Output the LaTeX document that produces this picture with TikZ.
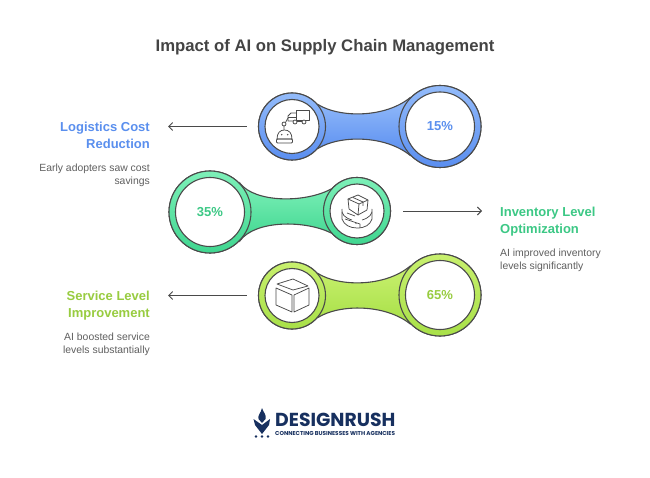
\documentclass[tikz,border=0pt]{standalone}
\usepackage{fontspec}
\setmainfont{Liberation Sans}
\newfontfamily\logofont{Poppins}
\usetikzlibrary{arrows.meta}
\definecolor{inkgray}{HTML}{4A4A4A}
\definecolor{titlegray}{HTML}{444444}
\definecolor{bodygray}{HTML}{5F5F5F}
\definecolor{bluetop}{HTML}{93BBFA}
\definecolor{bluelow}{HTML}{5A8EF0}
\definecolor{bluetext}{HTML}{5A8FEE}
\definecolor{greentop}{HTML}{7DF0B8}
\definecolor{greenlow}{HTML}{40D690}
\definecolor{greentext}{HTML}{3CC885}
\definecolor{limetop}{HTML}{C8F06E}
\definecolor{limelow}{HTML}{A8E048}
\definecolor{limetext}{HTML}{98CC40}
\definecolor{logonavy}{HTML}{17305F}
\tikzset{
    outerbig/.style={circle, draw=inkgray, line width=1.1pt, minimum size=82pt, inner sep=0pt},
    outersmall/.style={circle, draw=inkgray, line width=1.1pt, minimum size=67pt, inner sep=0pt},
    innerbig/.style={circle, draw=inkgray, fill=white, line width=1.1pt, minimum size=69pt, inner sep=0pt, font=\bfseries\fontsize{13}{16}\selectfont},
    innersmall/.style={circle, draw=inkgray, fill=white, line width=1.1pt, minimum size=54pt, inner sep=0pt},
    link/.style={draw=inkgray, line width=1.1pt},
    pointer/.style={draw=inkgray, line width=0.9pt, -{Straight Barb[length=4pt,width=8pt]}},
    heading/.style={font=\bfseries\fontsize{13}{17}\selectfont, inner sep=0pt},
    bodytext/.style={font=\fontsize{10.4}{13}\selectfont, text=bodygray, inner sep=0pt},
    icon/.style={draw=inkgray, line width=0.75pt, line join=round}
}
\begin{document}
\begin{tikzpicture}[x=1pt, y=-1pt]
    \useasboundingbox (0,0) rectangle (650,478);
    \fill[white] (0,0) rectangle (650,478);

    % Title
    \node[font=\bfseries\fontsize{16.7}{20}\selectfont, text=titlegray, inner sep=0pt] (title) at (325,47.5) {Impact of AI on Supply Chain Management};

    % Top row
    \node[outersmall, top color=bluetop, bottom color=bluelow] (costsmall) at (292,126.5) {};
    \node[outerbig, top color=bluetop, bottom color=bluelow] (costbig) at (440,126.5) {};
    \draw[link, top color=bluetop, bottom color=bluelow] (costsmall.40) .. controls (340,118) and (385,118) .. (costbig.136) -- (costbig.-136) .. controls (385,135) and (340,135) .. (costsmall.-40) -- cycle;
    \node[outersmall, top color=bluetop, bottom color=bluelow] at (292,126.5) {};
    \node[outerbig, top color=bluetop, bottom color=bluelow] at (440,126.5) {};
    \node[innersmall] (costicon) at (292,126.5) {};
    \node[innerbig, text=bluetext] (costpct) at (440,126.5) {15\%};

    % Middle row
    \node[outerbig, top color=greentop, bottom color=greenlow] (stockbig) at (210,212) {};
    \node[outersmall, top color=greentop, bottom color=greenlow] (stocksmall) at (357,211) {};
    \draw[link, top color=greentop, bottom color=greenlow] (stockbig.44) .. controls (255,203) and (305,203) .. (stocksmall.140) -- (stocksmall.-140) .. controls (305,220) and (255,220) .. (stockbig.-44) -- cycle;
    \node[outerbig, top color=greentop, bottom color=greenlow] at (210,212) {};
    \node[outersmall, top color=greentop, bottom color=greenlow] at (357,211) {};
    \node[innerbig, text=greentext] (stockpct) at (210,212) {35\%};
    \node[innersmall] (stockicon) at (357,211) {};

    % Bottom row
    \node[outersmall, top color=limetop, bottom color=limelow] (servsmall) at (292,295.5) {};
    \node[outerbig, top color=limetop, bottom color=limelow] (servbig) at (440,295) {};
    \draw[link, top color=limetop, bottom color=limelow] (servsmall.40) .. controls (340,287) and (385,287) .. (servbig.136) -- (servbig.-136) .. controls (385,304) and (340,304) .. (servsmall.-40) -- cycle;
    \node[outersmall, top color=limetop, bottom color=limelow] at (292,295.5) {};
    \node[outerbig, top color=limetop, bottom color=limelow] at (440,295) {};
    \node[innersmall] (servicon) at (292,295.5) {};
    \node[innerbig, text=limetext] (servpct) at (440,295) {65\%};

    % Truck and robot
    \draw[icon] (296,110) rectangle (309,120);
    \draw[icon] (296,113) -- (291,113) -- (288,116) -- (288,121) -- (293,121);
    \draw[icon] (288,117) -- (296,117);
    \draw[icon, fill=white] (295,122) circle (2);
    \draw[icon, fill=white] (304,122) circle (2);
    \draw[icon] (297,121) -- (302,121);
    \draw[icon] (284,124) circle (2);
    \draw[icon] (284,126) -- (284,130) (285.5,122.5) -- (288,118);
    \draw[icon] (277,139) .. controls (277,133) and (280,130) .. (284.5,130) .. controls (289,130) and (292,133) .. (292,139) -- cycle;
    \draw[icon, rounded corners=1pt] (276.5,139) rectangle (292.5,143);
    \fill[inkgray] (281.7,134.7) circle (0.8) (287.7,134.7) circle (0.8);

    % Box on turntable
    \draw[icon] (348,199) -- (358,195) -- (368,200) -- (359,204) -- cycle;
    \draw[icon] (348,199) -- (349,209) -- (358,215) -- (359,204);
    \draw[icon] (368,200) -- (367,210) -- (358,215);
    \draw[icon] (353,197.5) -- (363,202) -- (363,206);
    \draw[icon] (342,209) .. controls (341,214) and (345,218) .. (352,220);
    \draw[icon] (372,209) .. controls (373,214) and (369,218) .. (362,220);
    \draw[icon] (342,212) -- (342,219) .. controls (344,225) and (350,228) .. (357,228) .. controls (365,228) and (370,225) .. (372,219) -- (372,212);
    \draw[icon] (345,219) -- (360,224) -- (360,228) (347,213) -- (355,216);
    \fill[inkgray] (356,223.5) circle (0.7);

    % Plain box
    \draw[icon] (277,284) -- (293,279) -- (308,286) -- (293,290) -- cycle;
    \draw[icon] (276,288) -- (292,295) -- (292,312) -- (276,305) -- cycle;
    \draw[icon] (294,295) -- (309,288) -- (309,305) -- (294,312) -- cycle;

    % Arrows
    \coordinate (costend) at (168,126.5);
    \coordinate (stockstart) at (403,211);
    \coordinate (stockend) at (482,211);
    \coordinate (servend) at (168,295.5);
    \draw[pointer] ([xshift=-11pt]costsmall.west) -- (costend);
    \draw[pointer] (stockstart) -- (stockend);
    \draw[pointer] ([xshift=-11pt]servsmall.west) -- (servend);

    % Left and right texts
    \node[heading, text=bluetext, align=right, anchor=north east] (costhead) at (150,122) {Logistics Cost\\Reduction};
    \node[bodytext, align=right, anchor=north east] (costbody) at (150,164) {Early adopters saw cost\\savings};
    \node[heading, text=greentext, align=left, anchor=north west] (stockhead) at (500,207) {Inventory Level\\Optimization};
    \node[bodytext, align=left, anchor=north west] (stockbody) at (500,248.5) {AI improved inventory\\levels significantly};
    \node[heading, text=limetext, align=right, anchor=north east] (servhead) at (150,291) {Service Level\\Improvement};
    \node[bodytext, align=right, anchor=north east] (servbody) at (150,333) {AI boosted service\\levels substantially};

    % Logo
    \fill[logonavy] (253.5,419) -- (262,425) -- (270,419) -- (269,425) -- (262,434) -- (255,425) -- cycle;
    \fill[logonavy] (262,408) .. controls (263,412) and (267,415) .. (265.5,419) -- (262,423) -- (258.5,419) .. controls (257.5,415) and (261,413) .. (262,408);
    \fill[logonavy] (256,436.5) circle (1.4) (262,436.5) circle (1.4) (268,436.5) circle (1.4);
    \node[font=\logofont\bfseries\fontsize{18.8}{20}\selectfont, text=logonavy, anchor=base west, inner sep=0pt, text height=13pt, text depth=0pt] (logoname) at (275,426) {DESIGNRUSH};
    \node[font=\logofont\bfseries\fontsize{5.7}{7}\selectfont, text=logonavy, anchor=base west, inner sep=0pt, text height=4pt, text depth=0pt] (logotag) at (275,435) {CONNECTING BUSINESSES WITH AGENCIES};
\end{tikzpicture}
\end{document}
